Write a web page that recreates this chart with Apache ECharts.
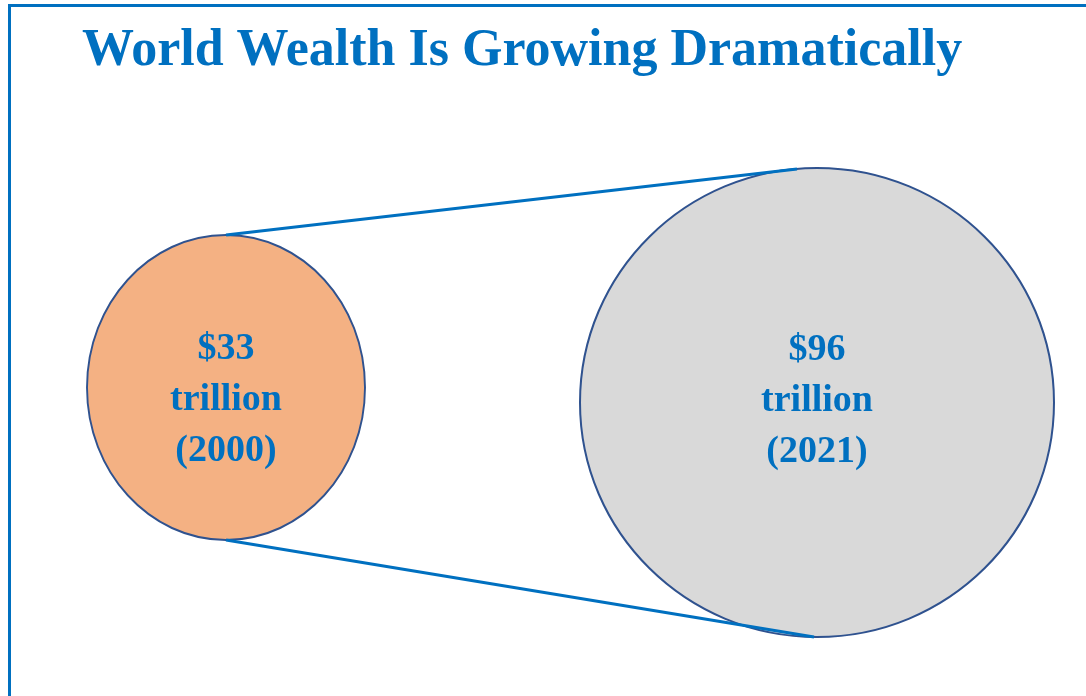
<!DOCTYPE html>
<html>
<head>
<meta charset="utf-8">
<title>World Wealth</title>
<script src="https://cdn.jsdelivr.net/npm/echarts@6/dist/echarts.min.js"></script>
<style>
    html, body { margin: 0; padding: 0; background: #fff; }
    #main { width: 1086px; height: 696px; }
</style>
</head>
<body>
<div id="main"></div>
<script>
    // data
    var titleText = 'World Wealth Is Growing Dramatically';
    var years = ['2000', '2021'];
    var wealth = [33, 96];          // trillion USD
    var unit = 'trillion';

    var blue = '#0070C0';
    var fills = ['#F4B183', '#D9D9D9'];
    var sizes = [[278, 305], [474, 469]];
    var offsets = [[0, -10.5], [0, 4.5]];
    var labelShift = [[0, 12.5], [0, -1.5]];

    // ellipse drawn as a path symbol, so it stretches to [w, h]
    var ellipsePath = 'path://M0,1 C0,0.448 0.448,0 1,0 C1.552,0 2,0.448 2,1 C2,1.552 1.552,2 1,2 C0.448,2 0,1.552 0,1 Z';

    var chart = echarts.init(document.getElementById('main'));

    var points = years.map(function (y, i) {
        return {
            value: [y, 0],
            symbolSize: sizes[i],
            symbolOffset: offsets[i],
            itemStyle: { color: fills[i] },
            label: { offset: labelShift[i] }
        };
    });

    var option = {
        animation: false,
        title: {
            text: titleText,
            left: 77,
            top: 21,
            textStyle: {
                fontFamily: 'Liberation Serif',
                fontWeight: 'bold',
                fontSize: 52,
                color: blue
            }
        },
        grid: { left: 226, right: 269, top: 100, bottom: 0 },
        xAxis: {
            type: 'category',
            data: years,
            boundaryGap: false,
            show: false
        },
        yAxis: {
            type: 'value',
            min: -1,
            max: 1,
            show: false
        },
        series: [
            {
                type: 'scatter',
                symbol: ellipsePath,
                data: points,
                itemStyle: {
                    borderColor: '#2F528F',
                    borderWidth: 2,
                    opacity: 1
                },
                label: {
                    show: true,
                    position: 'inside',
                    formatter: function (p) {
                        return '$' + wealth[p.dataIndex] + '\n' + unit + '\n(' + years[p.dataIndex] + ')';
                    },
                    fontFamily: 'Liberation Serif',
                    fontWeight: 'bold',
                    fontSize: 38,
                    lineHeight: 51,
                    color: blue
                },
                emphasis: { disabled: true }
            }
        ]
    };

    chart.setOption(option);

    // connectors and frame, placed from the ellipse centres
    var c0 = chart.convertToPixel({ seriesIndex: 0 }, [years[0], 0]);
    var c1 = chart.convertToPixel({ seriesIndex: 0 }, [years[1], 0]);
    var top0 = [c0[0], c0[1] + offsets[0][1] - sizes[0][1] / 2];
    var bot0 = [c0[0], c0[1] + offsets[0][1] + sizes[0][1] / 2];
    var top1 = [c1[0] - 20, c1[1] + offsets[1][1] - sizes[1][1] / 2 + 1];
    var bot1 = [c1[0] - 3, c1[1] + offsets[1][1] + sizes[1][1] / 2];

    function seg(a, b, w) {
        return {
            type: 'line',
            z: 10,
            shape: { x1: a[0], y1: a[1], x2: b[0], y2: b[1] },
            style: { stroke: blue, lineWidth: w }
        };
    }

    chart.setOption({
        graphic: [
            seg(top0, top1, 3),
            seg(bot0, bot1, 3),
            seg([8, 5.5], [1086, 5.5], 3),
            seg([9.5, 5], [9.5, 696], 3)
        ]
    });
</script>
</body>
</html>
